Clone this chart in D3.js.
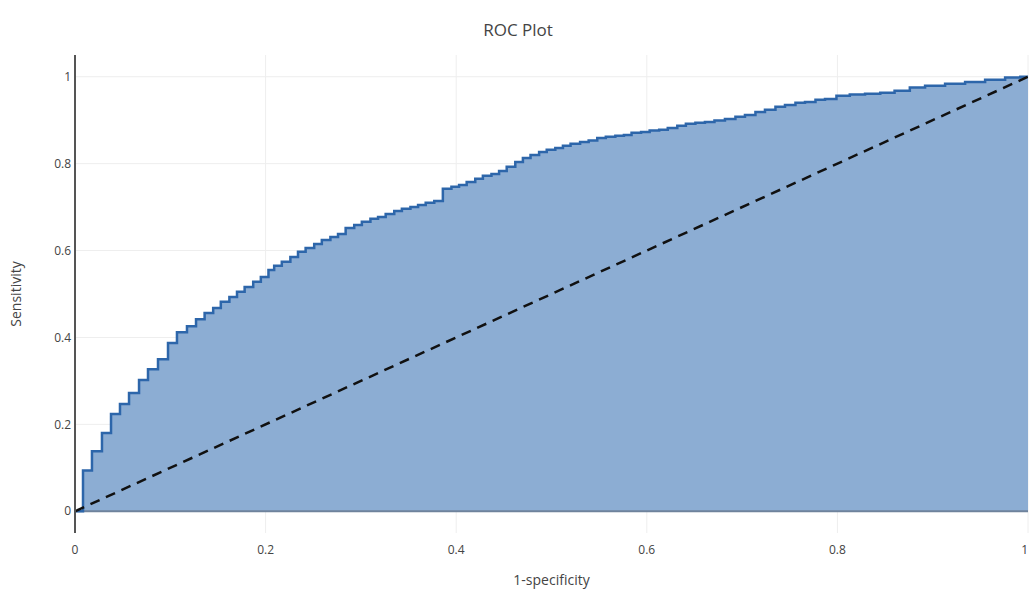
<!DOCTYPE html>
<html>
<head>
<meta charset="utf-8">
<script src="https://cdn.jsdelivr.net/npm/d3@7"></script>
<style>
  body { margin: 0; background: #fff; }
  text { font-family: "Open Sans", sans-serif; fill: #444; }
</style>
</head>
<body>
<svg class="chart"></svg>
<script>
// ROC curve points (step after)
var fpr = [0, 0.0084, 0.0178, 0.0283, 0.0378, 0.0472, 0.0567, 0.0672, 0.0766, 0.0871, 0.0976, 0.107, 0.1175, 0.127,
  0.136, 0.145, 0.153, 0.162, 0.170, 0.178, 0.187, 0.195, 0.203, 0.209, 0.217, 0.226, 0.234, 0.242, 0.251, 0.259,
  0.268, 0.276, 0.284, 0.293, 0.301, 0.310, 0.318, 0.326, 0.335, 0.343, 0.352, 0.360, 0.368, 0.377, 0.386, 0.395,
  0.403, 0.411, 0.420, 0.428, 0.437, 0.445, 0.453, 0.462, 0.470, 0.478, 0.487, 0.495, 0.504, 0.512, 0.520, 0.530,
  0.539, 0.548, 0.557, 0.567, 0.576, 0.584, 0.594, 0.603, 0.613, 0.622, 0.632, 0.641, 0.651, 0.661, 0.671, 0.682,
  0.693, 0.703, 0.714, 0.724, 0.735, 0.745, 0.756, 0.766, 0.777, 0.787, 0.799, 0.813, 0.829, 0.845, 0.860, 0.876,
  0.892, 0.913, 0.934, 0.955, 0.976, 0.992, 1];
var tpr = [0, 0.094, 0.138, 0.180, 0.224, 0.247, 0.272, 0.302, 0.327, 0.350, 0.387, 0.412, 0.426, 0.442,
  0.456, 0.468, 0.482, 0.493, 0.505, 0.516, 0.528, 0.539, 0.555, 0.565, 0.574, 0.585, 0.597, 0.606, 0.615, 0.624,
  0.631, 0.638, 0.652, 0.659, 0.666, 0.673, 0.677, 0.684, 0.691, 0.696, 0.700, 0.705, 0.710, 0.714, 0.742, 0.747,
  0.751, 0.758, 0.765, 0.772, 0.776, 0.783, 0.793, 0.804, 0.813, 0.820, 0.827, 0.832, 0.836, 0.841, 0.846, 0.850,
  0.853, 0.859, 0.862, 0.864, 0.866, 0.871, 0.873, 0.876, 0.878, 0.882, 0.887, 0.892, 0.894, 0.896, 0.899, 0.903,
  0.908, 0.912, 0.919, 0.924, 0.931, 0.935, 0.940, 0.942, 0.947, 0.949, 0.956, 0.959, 0.961, 0.963, 0.968, 0.975,
  0.979, 0.984, 0.988, 0.993, 0.998, 1, 1];
var ticks = [0, 0.2, 0.4, 0.6, 0.8, 1];
var tickLabels = ["0", "0.2", "0.4", "0.6", "0.8", "1"];

var data = fpr.map(function(d, i) { return {x: d, y: tpr[i]}; });

var margin = {top: 55, right: 1, bottom: 59, left: 75},
    width = 1029 - margin.left - margin.right,
    height = 592 - margin.top - margin.bottom;

var svg = d3.select(".chart")
    .attr("width", 1029)
    .attr("height", 592)
  .append("g")
    .attr("transform", "translate(" + margin.left + "," + margin.top + ")");

var xScale = d3.scaleLinear().domain([0, 1]).range([0, width]),
    yScale = d3.scaleLinear().domain([-0.05, 1.05]).range([height, 0]);

// grid
svg.append("g")
  .selectAll("line.vg")
  .data(ticks.slice(1))
  .enter().append("line")
    .attr("x1", function(d) { return xScale(d); })
    .attr("x2", function(d) { return xScale(d); })
    .attr("y1", 0).attr("y2", height)
    .attr("stroke", "#eee").attr("stroke-width", 1);
svg.append("g")
  .selectAll("line.hg")
  .data(ticks.slice(1))
  .enter().append("line")
    .attr("x1", 0).attr("x2", width)
    .attr("y1", function(d) { return yScale(d); })
    .attr("y2", function(d) { return yScale(d); })
    .attr("stroke", "#eee").attr("stroke-width", 1);

// filled ROC curve
var area = d3.area()
    .curve(d3.curveStepAfter)
    .x(function(d) { return xScale(d.x); })
    .y0(yScale(0))
    .y1(function(d) { return yScale(d.y); });
var line = d3.line()
    .curve(d3.curveStepAfter)
    .x(function(d) { return xScale(d.x); })
    .y(function(d) { return yScale(d.y); });

svg.append("path")
    .datum(data)
    .attr("d", area)
    .attr("fill", "#8cadd3");

// zero line
svg.append("line")
    .attr("x1", 0).attr("x2", width)
    .attr("y1", yScale(0)).attr("y2", yScale(0))
    .attr("stroke", "#6f839c").attr("stroke-width", 2);

svg.append("path")
    .datum(data)
    .attr("d", line)
    .attr("fill", "none")
    .attr("stroke", "#2d66aa")
    .attr("stroke-width", 2.5);

// chance diagonal
svg.append("path")
    .datum([{x: 0, y: 0}, {x: 1, y: 1}])
    .attr("d", d3.line().x(function(d) { return xScale(d.x); }).y(function(d) { return yScale(d.y); }))
    .attr("stroke", "#111")
    .attr("stroke-width", 2.5)
    .attr("stroke-dasharray", "10,7");

// y axis line
svg.append("line")
    .attr("x1", 0).attr("x2", 0)
    .attr("y1", 0).attr("y2", height)
    .attr("stroke", "#555").attr("stroke-width", 2);

// tick labels
svg.append("g")
  .selectAll("text")
  .data(ticks)
  .enter().append("text")
    .attr("x", -4)
    .attr("y", function(d) { return yScale(d); })
    .attr("dy", "0.35em")
    .style("text-anchor", "end")
    .style("font-size", "12px")
    .text(function(d, i) { return tickLabels[i]; });

svg.append("g")
  .selectAll("text")
  .data(ticks)
  .enter().append("text")
    .attr("x", function(d) { return xScale(d); })
    .attr("y", height + 21)
    .style("text-anchor", function(d, i) { return i === ticks.length - 1 ? "end" : "middle"; })
    .style("font-size", "12px")
    .text(function(d, i) { return tickLabels[i]; });

// titles
d3.select(".chart").append("text")
    .attr("x", 518).attr("y", 36)
    .style("text-anchor", "middle")
    .style("font-size", "17px")
    .text("ROC Plot");

d3.select(".chart").append("text")
    .attr("x", margin.left + width / 2).attr("y", 585)
    .style("text-anchor", "middle")
    .style("font-size", "14px")
    .text("1-specificity");

d3.select(".chart").append("text")
    .attr("transform", "translate(21," + (margin.top + yScale(0.5)) + ") rotate(-90)")
    .style("text-anchor", "middle")
    .style("font-size", "14px")
    .text("Sensitivity");
</script>
</body>
</html>
